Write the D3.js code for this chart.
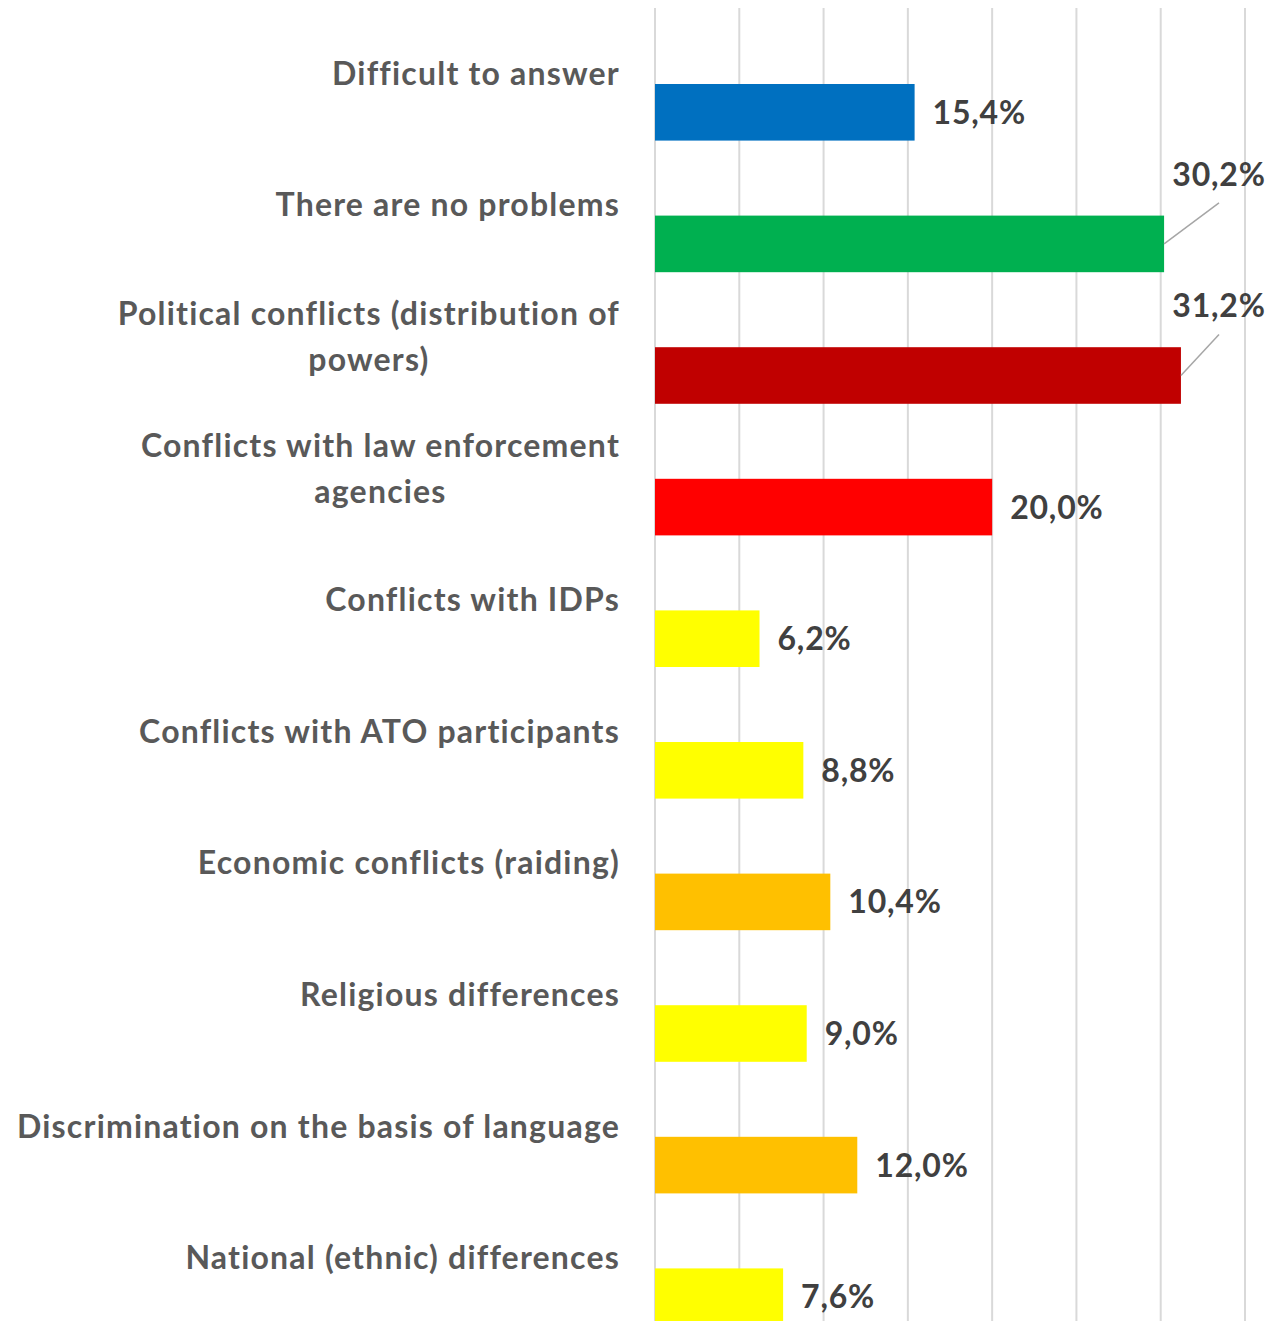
<!DOCTYPE html>
<html>
<head>
<meta charset="utf-8">
<script src="https://cdn.jsdelivr.net/npm/d3@7"></script>
<style>
  body { margin: 0; background: #fff; }
  svg { display: block; }
</style>
</head>
<body>
<svg id="chart" width="1277" height="1321"></svg>
<script>
// categories, top to bottom ("\n" = line break as in the original)
const categories = [
    "Difficult to answer",
    "There are no problems",
    "Political conflicts (distribution of\npowers)",
    "Conflicts with law enforcement\nagencies",
    "Conflicts with IDPs",
    "Conflicts with ATO participants",
    "Economic conflicts (raiding)",
    "Religious differences",
    "Discrimination on the basis of language",
    "National (ethnic) differences"
];
const values = [15.4, 30.2, 31.2, 20.0, 6.2, 8.8, 10.4, 9.0, 12.0, 7.6];
const barColors = ["#0070C0", "#00B050", "#C00000", "#FF0000", "#FFFF00",
                   "#FFFF00", "#FFC000", "#FFFF00", "#FFC000", "#FFFF00"];
const xTicks = [0, 5, 10, 15, 20, 25, 30, 35];

let chart = d3.select("#chart");
let chart_width = 1277;
let chart_height = 1321;

// x scale for percent
let x = d3.scaleLinear()
    .domain([0, 35])
    .range([655, 1245]);

// y band scale for categories
let y = d3.scaleBand()
    .domain(d3.range(categories.length))
    .range([84, 1325])
    .paddingInner(0.57)
    .paddingOuter(0);

// vertical gridlines
chart.append("g")
    .selectAll("line")
    .data(xTicks)
    .enter()
    .append("line")
    .attr("x1", d => x(d))
    .attr("x2", d => x(d))
    .attr("y1", 8)
    .attr("y2", chart_height)
    .attr("stroke", "#d9d9d9")
    .attr("stroke-width", 2);

// bars
chart.append("g")
    .selectAll("rect")
    .data(values)
    .enter()
    .append("rect")
    .attr("x", x(0))
    .attr("y", (d, i) => y(i))
    .attr("width", d => x(d) - x(0))
    .attr("height", y.bandwidth())
    .attr("fill", (d, i) => barColors[i]);

// category labels, sitting a bit above their bar
// block is right aligned, wrapped lines are centred on each other
let labelRight = 620;
let labels = chart.append("g")
    .selectAll("text")
    .data(categories)
    .enter()
    .append("text")
    .attr("text-anchor", "middle")
    .style("font-family", "Lato, 'Open Sans', sans-serif")
    .style("font-weight", "bold")
    .style("font-size", "32px")
    .style("letter-spacing", "1.2px")
    .style("fill", "#595959");

labels.each(function(d, i) {
    let lines = d.split("\n");
    let cy = y(i) + y.bandwidth() / 2 - 39;
    let lh = 46;
    let top = cy - (lines.length - 1) * lh / 2;
    let spans = d3.select(this).selectAll("tspan")
        .data(lines)
        .enter()
        .append("tspan")
        .attr("y", (l, j) => top + j * lh)
        .attr("dy", "0.36em")
        .text(l => l);
    let maxW = d3.max(spans.nodes(), n => n.getComputedTextLength());
    spans.attr("x", labelRight - maxW / 2);
});

// value labels
function fmt(v) { return d3.format(".1f")(v).replace(".", ",") + "%"; }

let valueG = chart.append("g");
values.forEach(function(v, i) {
    let cy = y(i) + y.bandwidth() / 2;
    let t = valueG.append("text")
        .style("font-family", "Lato, 'Open Sans', sans-serif")
        .style("font-weight", "bold")
        .style("font-size", "32px")
        .style("letter-spacing", "0.8px")
        .style("fill", "#404040")
        .text(fmt(v));
    let w = t.node().getComputedTextLength();
    if (x(v) + 18 + w > x.range()[1]) {
        // no room at the bar end: put it up and right with a leader line
        let lx = 1219;
        t.attr("x", lx).attr("y", cy - 58).attr("text-anchor", "middle");
        valueG.append("line")
            .attr("x1", x(v))
            .attr("y1", cy)
            .attr("x2", lx)
            .attr("y2", cy - 41)
            .attr("stroke", "#a6a6a6")
            .attr("stroke-width", 1.5);
    } else {
        t.attr("x", x(v) + 18).attr("y", cy).attr("dy", "0.36em");
    }
});
</script>
</body>
</html>
